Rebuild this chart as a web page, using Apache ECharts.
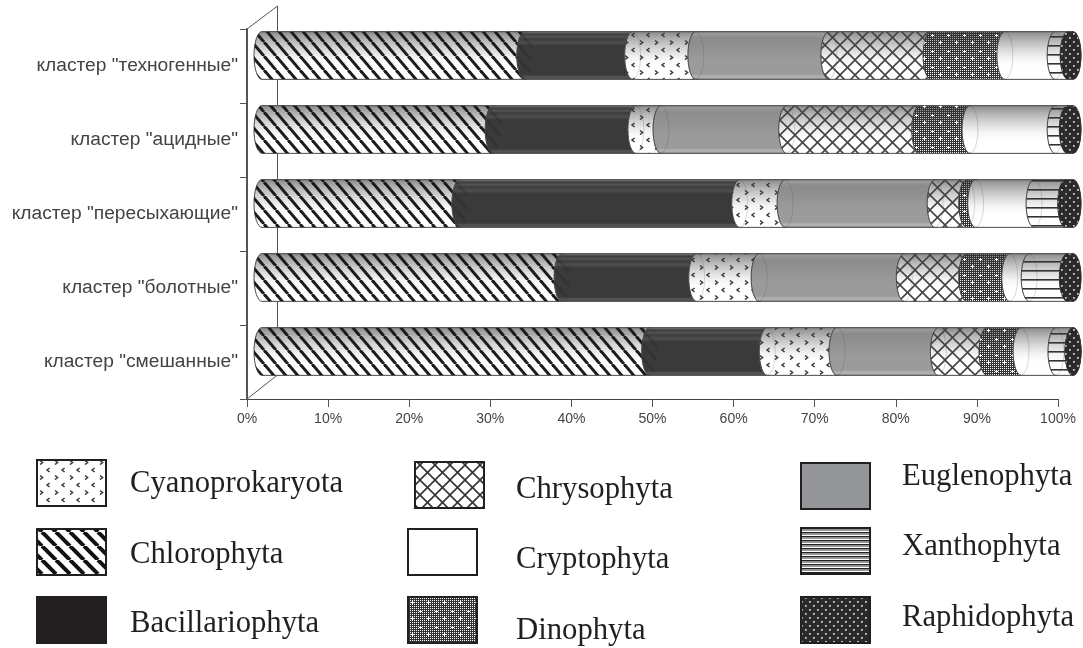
<!DOCTYPE html>
<html><head><meta charset="utf-8">
<style>html,body{margin:0;padding:0;background:#fff}#c{width:1083px;height:648px}</style>
<script src="https://cdn.jsdelivr.net/npm/echarts@6/dist/echarts.min.js"></script>
</head><body><div id="c"></div>
<script>
const categories = ['кластер "смешанные"','кластер "болотные"','кластер "пересыхающие"','кластер "ацидные"','кластер "техногенные"'];
const xTicks = [0,10,20,30,40,50,60,70,80,90,100];
const seriesNames = ['Chlorophyta','Bacillariophyta','Cyanoprokaryota','Euglenophyta','Chrysophyta','Dinophyta','Cryptophyta','Xanthophyta','Raphidophyta'];
const chlorophyta     = [47.8,37.0,24.4,28.5,32.4];
const bacillariophyta = [14.5,16.6,34.5,17.6,13.3];
const cyanoprokaryota = [ 8.6, 7.7, 5.6, 3.1, 7.8];
const euglenophyta    = [12.5,17.9,18.5,15.5,16.4];
const chrysophyta     = [ 6.0, 7.7, 3.9,16.4,12.6];
const dinophyta       = [ 4.2, 5.3, 1.1, 6.2, 9.1];
const cryptophyta     = [ 4.3, 2.4, 7.2,10.5, 6.2];
const xanthophyta     = [ 2.1, 4.7, 3.9, 1.5, 1.6];
const raphidophyta    = [ 0.0, 0.7, 0.9, 0.7, 0.6];
const allValues = [chlorophyta,bacillariophyta,cyanoprokaryota,euglenophyta,chrysophyta,dinophyta,cryptophyta,xanthophyta,raphidophyta];

function tile(w,h,draw){const c=document.createElement('canvas');c.width=w;c.height=h;draw(c.getContext('2d'));return {image:c,repeat:'repeat'};}
function diag(g,w,h,lw,col,dir){g.strokeStyle=col;g.lineWidth=lw;for(let k=-1;k<=1;k++){g.beginPath();if(dir>0){g.moveTo(k*w,0);g.lineTo(k*w+w,h);}else{g.moveTo(k*w+w,0);g.lineTo(k*w,h);}g.stroke();}}
function chevrons(g){g.strokeStyle='#3a3a3a';g.lineWidth=1.5;
  g.beginPath();g.moveTo(4.6,3);g.lineTo(2,5);g.lineTo(4.6,7);g.stroke();
  g.beginPath();g.moveTo(10,10.5);g.lineTo(12.6,12.5);g.lineTo(10,14.5);g.stroke();}
function dots(g){g.fillStyle='#2a2a2a';g.fillRect(0,0,8,8);g.fillStyle='#c8c8c8';g.fillRect(1,1,1.8,1.8);g.fillRect(5,5,1.8,1.8);}
function checker(g){g.fillStyle='#333';for(let y=0;y<16;y++)for(let x=0;x<16;x++){if(!(x%2===0&&y%2===0)&&!(x%2===1&&y%2===1&&false))g.fillRect(x,y,1,1);}
  g.fillStyle='#fff';[[4,3],[12,10]].forEach(p=>{g.fillRect(p[0]-1,p[1],3,1);g.fillRect(p[0],p[1]-1,1,3);});}
const blank = tile(4,4,()=>{});
const patterns = {
  Chlorophyta: tile(12,14,g=>diag(g,12,14,3,'#1c1c1c',1)),
  Bacillariophyta: blank,
  Cyanoprokaryota: tile(15,15,chevrons),
  Euglenophyta: blank,
  Chrysophyta: tile(15,15,g=>{diag(g,15,15,1.6,'#444',1);diag(g,15,15,1.6,'#444',-1);}),
  Dinophyta: tile(16,16,checker),
  Cryptophyta: blank,
  Xanthophyta: tile(4,9,g=>{g.fillStyle='#333';g.fillRect(0,0,4,1.6);}),
  Raphidophyta: tile(8,8,dots)
};
const legendFills = {
  Chlorophyta: tile(14,14,g=>diag(g,14,14,4,'#111',1)),
  Bacillariophyta: '#231f20',
  Cyanoprokaryota: tile(15,15,chevrons),
  Euglenophyta: '#939598',
  Chrysophyta: tile(15,15,g=>{diag(g,15,15,1.6,'#333',1);diag(g,15,15,1.6,'#333',-1);}),
  Dinophyta: tile(16,16,checker),
  Cryptophyta: '#ffffff',
  Xanthophyta: tile(4,4,g=>{g.fillStyle='#222';g.fillRect(0,0,4,1.5);g.fillStyle='#999';g.fillRect(0,2,4,1);}),
  Raphidophyta: tile(8,8,dots)
};
const lightStops = [[0,'#7c7c7c'],[.06,'#989898'],[.2,'#b8b8b8'],[.36,'#d6d6d6'],[.55,'#f4f4f4'],[.72,'#ffffff'],[1,'#ffffff']];
const baseStops = {
  Bacillariophyta: [[0,'#4a4a4a'],[.03,'#6a6a6a'],[.06,'#3c3c3c'],[.12,'#555'],[.16,'#3c3c3c'],[.24,'#4e4e4e'],[.3,'#3a3a3a'],[.9,'#3a3a3a'],[.94,'#555'],[1,'#4a4a4a']],
  Euglenophyta: [[0,'#777'],[.05,'#9a9a9a'],[.14,'#8c8c8c'],[.3,'#909090'],[.6,'#9b9b9b'],[.88,'#9b9b9b'],[.94,'#b6b6b6'],[1,'#8a8a8a']],
  Raphidophyta: [[0,'#2a2a2a'],[1,'#2a2a2a']]
};
const grad = st => ({type:'linear',x:0,y:0,x2:0,y2:1,colorStops:st.map(s=>({offset:s[0],color:s[1]}))});

const DX=15, DY=-10.5, RX=8, HEIGHT_RATIO=0.645, N=16;
function arc(cx,cy,ry,from,to){const p=[];for(let i=0;i<=N;i++){const a=from+(to-from)*i/N;p.push([cx+RX*Math.cos(a),cy+ry*Math.sin(a)]);}return p;}
function maker(name){
  return function(params,api){
    const start=api.value(0), end=api.value(1);
    if(end-start<=0) return {type:'group',children:[]};
    const a=api.coord([start,api.value(2)]), b=api.coord([end,api.value(2)]);
    const h=api.size([0,1])[1]*HEIGHT_RATIO, ry=h/2, cy=a[1]+DY, x0=a[0]+DX, x1=b[0]+DX;
    const pts=arc(x0,cy,ry,-Math.PI/2,-3*Math.PI/2).concat(arc(x1,cy,ry,Math.PI/2,-Math.PI/2));
    const cap=arc(x1,cy,ry,0,2*Math.PI);
    const stops=baseStops[name]||lightStops;
    const last=end>=99.95;
    const kids=[
      {type:'polygon',shape:{points:pts},style:{fill:grad(stops),stroke:'#4a4a4a',lineWidth:1}},
      {type:'polygon',shape:{points:pts},style:{fill:patterns[name],stroke:null}}
    ];
    if(last){
      kids.push({type:'polygon',z2:20,shape:{points:cap},style:{fill:name==='Raphidophyta'?'#2a2a2a':'#a2a2a2',stroke:'#444',lineWidth:1}});
      kids.push({type:'polygon',z2:21,shape:{points:cap},style:{fill:patterns[name],stroke:null}});
    } else {
      if(name==='Chlorophyta') kids.push({type:'polygon',z2:20,shape:{points:cap},style:{fill:patterns[name],stroke:null,opacity:.25}});
      kids.push({type:'polygon',z2:21,shape:{points:cap},style:{fill:'none',stroke:'#444',lineWidth:.7,opacity:.3}});
    }
    return {type:'group',children:kids};
  };
}
const running=categories.map(()=>0);
const series=seriesNames.map((name,si)=>({
  name,type:'custom',renderItem:maker(name),clip:false,animation:false,
  encode:{x:[0,1],y:2},itemStyle:{color:'#888'},
  data:allValues[si].map((v,ci)=>{const s=running[ci];running[ci]=s+v;return [s,si===8||s+v>=99.95?100:s+v,ci];})
}));
// legend placements: name, box left, box top, text left, text baseline
const legendPlaces=[
 ['Cyanoprokaryota',36,459,130,494],['Chlorophyta',36,528,130,565],['Bacillariophyta',36,596,130,634],
 ['Chrysophyta',414,461,516,500],['Cryptophyta',407,528,516,570],['Dinophyta',407,596,516,641],
 ['Euglenophyta',800,462,902,487],['Xanthophyta',800,527,902,557],['Raphidophyta',800,596,902,628]
];
const legendGraphic=[];
legendPlaces.forEach(p=>{
  legendGraphic.push({type:'rect',silent:true,shape:{x:p[1]+1,y:p[2]+1,width:69,height:46},
    style:{fill:legendFills[p[0]],stroke:'#231f20',lineWidth:2}});
  legendGraphic.push({type:'text',silent:true,x:p[3],y:p[4]-10.4,
    style:{text:p[0],fill:'#231f20',font:'30.7px "Liberation Serif"',textAlign:'left',textVerticalAlign:'middle'}});
});
const axisCol='#555';
const chart=echarts.init(document.getElementById('c'),null,{renderer:'canvas'});
chart.setOption({
  animation:false,backgroundColor:'#fff',
  grid:{left:247,right:25,top:29,height:370,containLabel:false},
  xAxis:{type:'value',min:0,max:100,interval:10,
    axisLine:{show:true,lineStyle:{color:'#444',width:1.2}},
    axisTick:{show:true,length:8,lineStyle:{color:axisCol,width:1}},
    splitLine:{show:false},
    axisLabel:{margin:13,fontFamily:'"Liberation Sans"',fontSize:14,color:'#444',formatter:v=>xTicks.includes(v)?v+'%':''}},
  yAxis:{type:'category',data:categories,
    axisLine:{show:true,lineStyle:{color:axisCol,width:2}},
    axisTick:{show:true,length:7,lineStyle:{color:axisCol,width:1}},
    axisLabel:{margin:9,fontFamily:'"Liberation Sans"',fontSize:19.2,color:'#444'}},
  graphic:[
    {type:'polyline',silent:true,shape:{points:[[247,29],[277.5,6],[277.5,375],[247,399]]},style:{fill:'none',stroke:'#555',lineWidth:1}}
  ].concat(legendGraphic),
  series
});
</script></body></html>
